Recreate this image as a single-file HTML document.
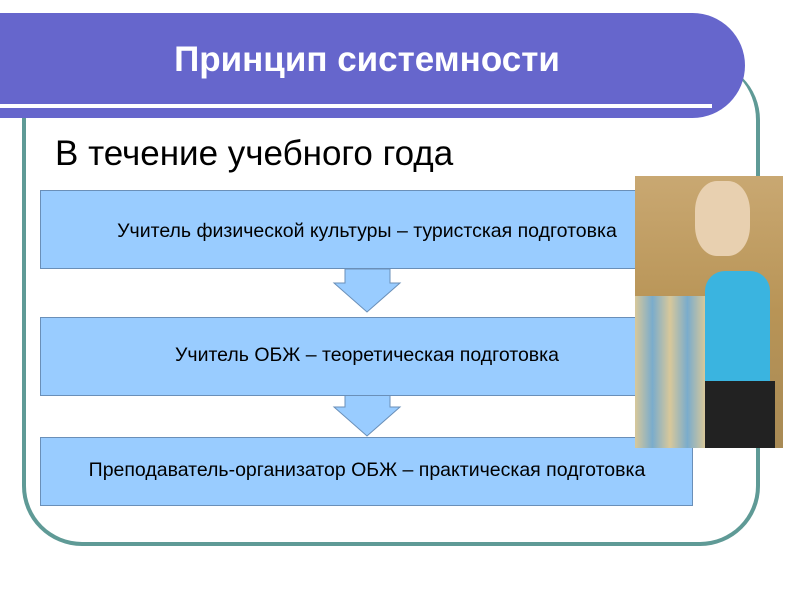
<!DOCTYPE html>
<html><head><meta charset="utf-8"><style>
body{margin:0;width:800px;height:600px;background:#fff;position:relative;overflow:hidden;font-family:"Liberation Sans",sans-serif}
.a{position:absolute}
.box{position:absolute;background:#99ccff;border:1px solid #6a8fb8;box-sizing:border-box}
.t{position:absolute;left:0;width:734px;text-align:center;font-size:19.5px;color:#000;white-space:nowrap}
</style></head><body>
<div class="a" style="left:22px;top:60px;width:738px;height:486px;border:4px solid #5f9a96;border-radius:0 60px 60px 60px;border-top:none;box-sizing:border-box"></div>
<div class="a" style="left:0;top:13px;width:745px;height:105px;background:#6666cc;border-radius:0 55px 55px 0"></div>
<div class="a" style="left:0;top:104px;width:712px;height:4px;background:#fff"></div>
<div class="a" style="left:0;top:40px;width:734px;text-align:center;color:#fff;font-weight:bold;font-size:35px">Принцип системности</div>
<div class="a" style="left:55px;top:134px;font-size:35px;color:#000">В течение учебного года</div>
<div class="box" style="left:40px;top:190px;width:620px;height:79px"></div>
<svg class="a" style="left:0;top:0" width="800" height="600">
<polygon points="345,269 390,269 390,283 400,283 367,312 334,283 345,283" fill="#99ccff" stroke="#6a8fb8"/>
<polygon points="345,395 390,395 390,407 400,407 367,436 334,407 345,407" fill="#99ccff" stroke="#6a8fb8"/>
</svg>
<div class="box" style="left:40px;top:317px;width:620px;height:79px"></div>
<div class="box" style="left:40px;top:437px;width:653px;height:69px"></div>
<div class="t" style="top:220px">Учитель физической культуры – туристская подготовка</div>
<div class="t" style="top:344px">Учитель ОБЖ – теоретическая подготовка</div>
<div class="t" style="top:459px">Преподаватель-организатор ОБЖ – практическая подготовка</div>
<div class="a" style="left:635px;top:176px;width:148px;height:272px;background:linear-gradient(180deg,#c9a872,#b89456 50%,#a88a55);overflow:hidden">
 <div class="a" style="left:60px;top:5px;width:55px;height:75px;background:#e8d0b0;border-radius:40%"></div>
 <div class="a" style="left:70px;top:95px;width:65px;height:120px;background:#3ab4e0;border-radius:20px 20px 0 0"></div>
 <div class="a" style="left:70px;top:205px;width:70px;height:67px;background:#222"></div>
 <div class="a" style="left:0;top:120px;width:70px;height:152px;background:linear-gradient(90deg,#d8c89a,#7aaccc,#d8c89a,#7aaccc,#d8c89a)"></div>
</div>
</body></html>
